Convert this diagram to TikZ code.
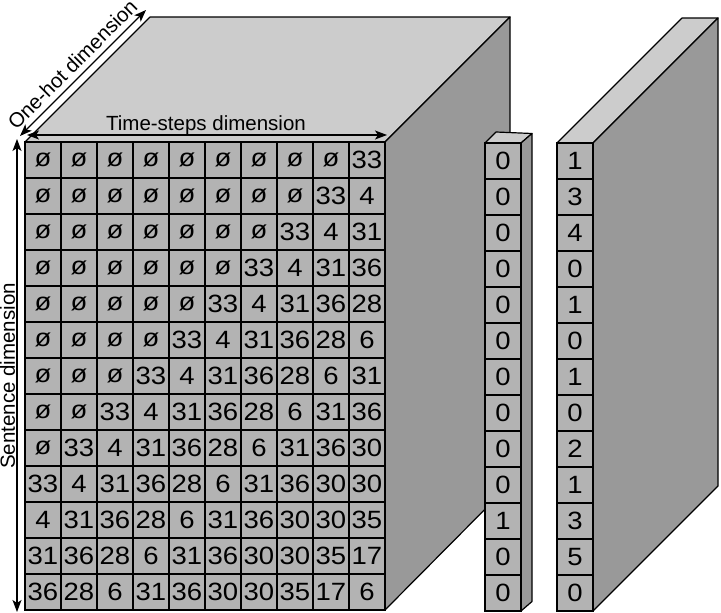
\documentclass[tikz,border=0pt]{standalone}
\usepackage{fontspec}
\setmainfont{Liberation Sans}
\newfontfamily\cellfont[FakeStretch=1.1]{Liberation Sans}
\usetikzlibrary{arrows.meta}
\definecolor{topgray}{HTML}{CCCCCC}
\definecolor{sidegray}{HTML}{999999}
\definecolor{cellgray}{HTML}{B3B3B3}
\tikzset{
  face/.style={draw=black, line width=1.2pt, line join=round},
  cellbox/.style={draw=black, fill=cellgray, line width=1.2pt, minimum width=36pt,
    minimum height=36pt, inner sep=0pt, outer sep=0pt, anchor=center,
    font=\cellfont\fontsize{25}{25}\selectfont},
  dimarrow/.style={line width=1.2pt,
    {Stealth[length=12pt,width=9pt,inset=3pt]}-{Stealth[length=12pt,width=9pt,inset=3pt]}},
  dimlabel/.style={font=\fontsize{20.5}{24}\selectfont, inner sep=0pt, anchor=base}
}
\begin{document}
\begin{tikzpicture}[x=1pt,y=-1pt]
\useasboundingbox (0,0) rectangle (721,613);
% main cube faces
\draw[face, fill=topgray] (25,142) -- (150,17) -- (510,17) -- (385,142) -- cycle;
\draw[face, fill=sidegray] (385,142) -- (510,17) -- (510,484) -- (385,610) -- cycle;
% main grid
\foreach \row [count=\r] in {
  {ø,ø,ø,ø,ø,ø,ø,ø,ø,33},
  {ø,ø,ø,ø,ø,ø,ø,ø,33,4},
  {ø,ø,ø,ø,ø,ø,ø,33,4,31},
  {ø,ø,ø,ø,ø,ø,33,4,31,36},
  {ø,ø,ø,ø,ø,33,4,31,36,28},
  {ø,ø,ø,ø,33,4,31,36,28,6},
  {ø,ø,ø,33,4,31,36,28,6,31},
  {ø,ø,33,4,31,36,28,6,31,36},
  {ø,33,4,31,36,28,6,31,36,30},
  {33,4,31,36,28,6,31,36,30,30},
  {4,31,36,28,6,31,36,30,30,35},
  {31,36,28,6,31,36,30,30,35,17},
  {36,28,6,31,36,30,30,35,17,6}}{
  \foreach \v [count=\c] in \row {
    \node[cellbox] (m-\r-\c) at ({36*\c+7},{36*\r+124}) {\v};
  }
}
% middle column
\draw[face, fill=topgray] (485,143) -- (496,132) -- (532,133.5) -- (521,143) -- cycle;
\draw[face, fill=sidegray] (521,143) -- (532,133.5) -- (532,601.5) -- (521,611) -- cycle;
\foreach \v [count=\r] in {0,0,0,0,0,0,0,0,0,0,1,0,0} {
  \node[cellbox] (v-\r) at (503,{36*\r+125}) {\v};
}
% right slab
\draw[face, fill=topgray] (557,143) -- (682,18) -- (718,18) -- (593,143) -- cycle;
\draw[face, fill=sidegray] (593,143) -- (718,18) -- (718,486) -- (593,611) -- cycle;
\foreach \v [count=\r] in {1,3,4,0,1,0,1,0,2,1,3,5,0} {
  \node[cellbox] (s-\r) at (575,{36*\r+125}) {\v};
}
% dimension arrows
\coordinate (ts-l) at (27,135);
\coordinate (ts-r) at (387,135);
\draw[dimarrow] (ts-l) -- (ts-r);
\node[dimlabel] (ts-lab) at (206,130) {Time-steps dimension};
\coordinate (oh-a) at (20,136);
\coordinate (oh-b) at (146,10);
\draw[dimarrow] (oh-a) -- (oh-b);
\node[dimlabel, rotate=45] (oh-lab) at (77.5,69.5) {One-hot dimension};
\coordinate (sd-t) at (17,139);
\coordinate (sd-b) at (17,612);
\draw[dimarrow] (sd-t) -- (sd-b);
\node[dimlabel, rotate=90] (sd-lab) at (15,376) {Sentence dimension};
\end{tikzpicture}
\end{document}
